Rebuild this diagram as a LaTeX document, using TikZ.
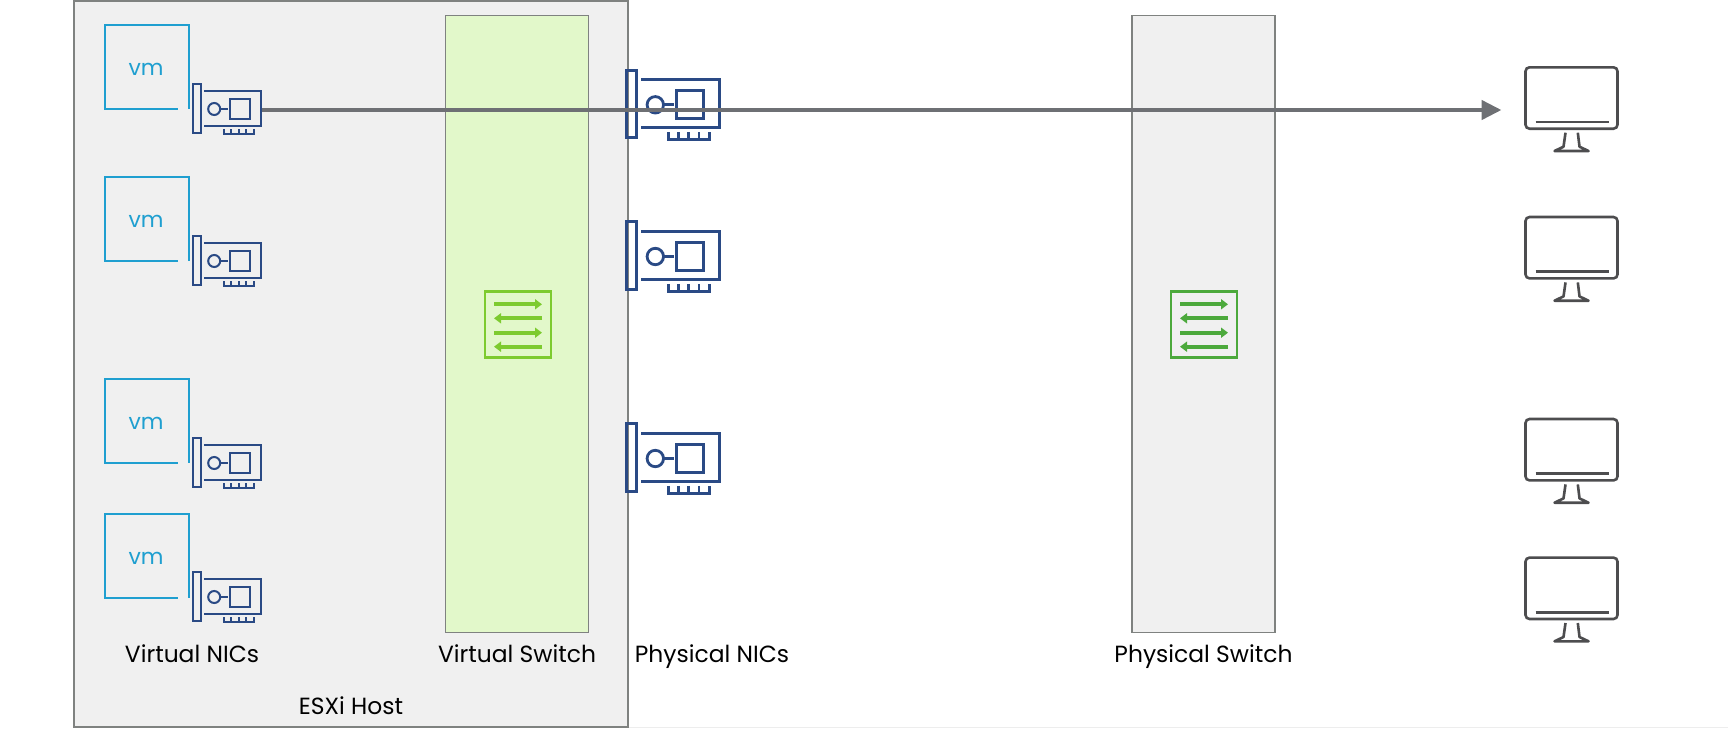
\documentclass[tikz,border=0pt]{standalone}
\usepackage{fontspec}
\setmainfont{Poppins}
\usetikzlibrary{arrows.meta}
\definecolor{hostgray}{HTML}{F0F0F0}
\definecolor{boxline}{HTML}{7F8280}
\definecolor{vswgreen}{HTML}{E2F8CA}
\definecolor{viconc}{HTML}{7DCB2F}
\definecolor{piconc}{HTML}{4CA93C}
\definecolor{vmblue}{HTML}{1F9FD0}
\definecolor{nicblue}{HTML}{2A4A85}
\definecolor{screenc}{HTML}{4D4D4F}
\definecolor{flowgray}{HTML}{6E7074}
\tikzset{
  label/.style={font=\fontsize{23.4}{27}\selectfont, text=black, inner sep=0pt, anchor=base},
  vmtext/.style={font=\fontsize{22}{26}\selectfont, text=vmblue, inner sep=0pt, anchor=base},
  pics/nic/.style={code={
    \draw[nicblue, line width=#1] (-21,-25.3) rectangle (-13.6,24);
    \draw[nicblue, line width=#1] (-10.3,-18.3) -- (46.7,-18.3) -- (46.7,16.7) -- (-10.3,16.7);
    \draw[nicblue, line width=#1] (0,0) circle (6);
    \draw[nicblue, line width=#1] (6,0) -- (13.4,0);
    \draw[nicblue, line width=#1] (15.7,-10.3) rectangle (35.4,10);
    \draw[nicblue, line width=#1] (9.4,20) -- (9.4,25.3) -- (39.4,25.3) -- (39.4,20);
    \draw[nicblue, line width=#1] (16.9,20) -- (16.9,25.3);
    \draw[nicblue, line width=#1] (24.4,20) -- (24.4,25.3);
    \draw[nicblue, line width=#1] (31.9,20) -- (31.9,25.3);
  }},
  pics/screen/.style={code={
    \draw[screenc, line width=2.6pt, rounded corners=4pt] (0,0) rectangle (92,61.4);
    \draw[screenc, line width=2.6pt] (10,54.7) -- (83,54.7);
    \draw[screenc, line width=2.6pt, line join=round] (40,65.4) -- (38,79.4) -- (29,83.7) -- (63,83.7) -- (54,79.4) -- (52.3,65.4);
  }},
  pics/swicon/.style={code={
    \draw[#1, line width=2.6pt] (-33,-32.8) rectangle (33,32.8);
    \draw[#1, line width=4pt, -{Triangle[length=7pt, width=10pt]}] (-24,-20.2) -- (24,-20.2);
    \draw[#1, line width=4pt, -{Triangle[length=7pt, width=10pt]}] (24,-6.2) -- (-24,-6.2);
    \draw[#1, line width=4pt, -{Triangle[length=7pt, width=10pt]}] (-24,8.2) -- (24,8.2);
    \draw[#1, line width=4pt, -{Triangle[length=7pt, width=10pt]}] (24,22.2) -- (-24,22.2);
  }}
}
\begin{document}
\begin{tikzpicture}[x=1pt,y=-1pt]
\useasboundingbox (0,0) rectangle (1728,728);
\draw[black!7, line width=1pt] (628,727.5) -- (1728,727.5);
\filldraw[fill=hostgray, draw=boxline, line width=1.5pt] (74,1) rectangle (628,727);
\filldraw[fill=vswgreen, draw=boxline, line width=1.3pt] (445.5,15.5) rectangle (588.5,632.5);
\filldraw[fill=hostgray, draw=boxline, line width=1.3pt] (1132,15.5) rectangle (1275,632.5);
\pic at (518,324.5) {swicon=viconc};
\pic at (1204,324.5) {swicon=piconc};
% vms
\draw[vmblue, line width=2.4pt] (177.7,109) -- (105,109) -- (105,25) -- (189,25) -- (189,109);
\draw[vmblue, line width=2.4pt] (177.7,261) -- (105,261) -- (105,177) -- (189,177) -- (189,261);
\draw[vmblue, line width=2.4pt] (177.7,463) -- (105,463) -- (105,379) -- (189,379) -- (189,463);
\draw[vmblue, line width=2.4pt] (177.7,598) -- (105,598) -- (105,514) -- (189,514) -- (189,598);
\node[vmtext] (vma) at (146,75) {vm};
\node[vmtext] (vmb) at (146,227) {vm};
\node[vmtext] (vmc) at (146,429) {vm};
\node[vmtext] (vmd) at (146,564) {vm};
% virtual nics
\pic at (214.2,109) {nic=2pt};
\pic at (214.2,261) {nic=2pt};
\pic at (214.2,463) {nic=2pt};
\pic at (214.2,597) {nic=2pt};
% physical nics
\pic[scale=1.37] at (655.3,104.8) {nic=2.8pt};
\pic[scale=1.37] at (655.3,256.5) {nic=2.8pt};
\pic[scale=1.37] at (655.3,458.5) {nic=2.8pt};
% hosts
\pic at (1525.5,67.3) {screen};
\pic at (1525.5,217) {screen};
\pic at (1525.5,419) {screen};
\pic at (1525.5,557.6) {screen};
\coordinate (vnicout) at (262,110);
\coordinate (hostin) at (1501.5,110);
\draw[flowgray, line width=4.5pt, -{Triangle[length=20pt, width=19pt]}] (vnicout) -- (hostin);
\node[label] (vniclabel) at (192,662.5) {Virtual NICs};
\node[label] (vswlabel) at (517,662.5) {Virtual Switch};
\node[label] (pniclabel) at (712,662.5) {Physical NICs};
\node[label] (pswlabel) at (1203.5,662.5) {Physical Switch};
\node[label] (hostlabel) at (351,714.5) {ESXi Host};
\end{tikzpicture}
\end{document}
